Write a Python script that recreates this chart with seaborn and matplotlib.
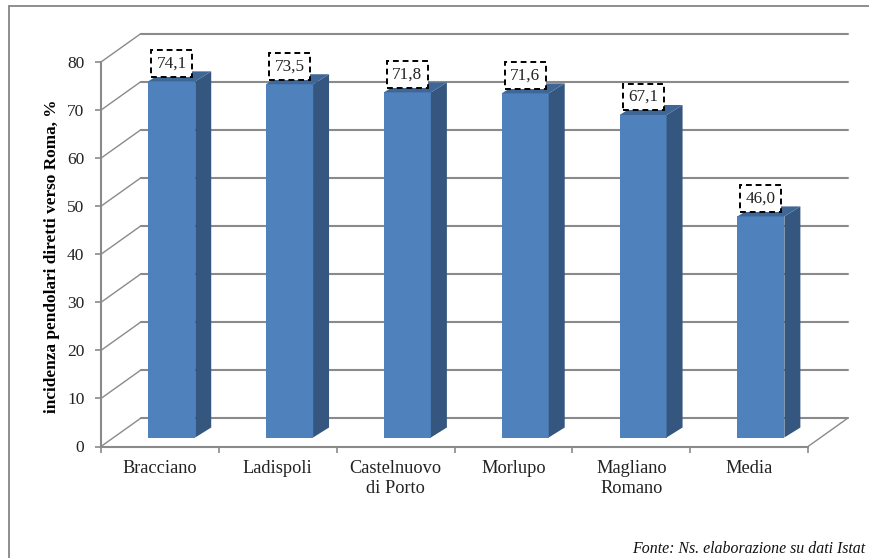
import matplotlib
matplotlib.use("Agg")
import matplotlib.pyplot as plt
import seaborn as sns
import pandas as pd
from matplotlib.patches import Polygon
from matplotlib.transforms import ScaledTranslation

categories = ["Bracciano", "Ladispoli", "Castelnuovo\ndi Porto", "Morlupo", "Magliano\nRomano", "Media"]
values = [74.1, 73.5, 71.8, 71.6, 67.1, 46.0]
labels = ["74,1", "73,5", "71,8", "71,6", "67,1", "46,0"]
y_ticks = list(range(0, 90, 10))
y_title = "incidenza pendolari diretti verso Roma, %"
source = "Fonte: Ns. elaborazione su dati Istat"

W, H = 869, 558
DPI = 100
sns.set_theme(style="white")
plt.rcParams["font.family"] = ["Liberation Serif", "DejaVu Serif"]
fig = plt.figure(figsize=(W / DPI, H / DPI), dpi=DPI, facecolor="white")

L, R, B, T = 101, 808, 446.5, 62
ax = fig.add_axes([L / W, 1 - B / H, (R - L) / W, (B - T) / H])
df = pd.DataFrame({"c": categories, "v": values})
ux = (R - L) / 6
uy = (B - T) / 80
sns.barplot(data=df, x="c", y="v", color="#4f81bd", saturation=1, width=47 / ux, ax=ax, zorder=4)
ax.set_xlim(-0.5, 5.5)
ax.set_ylim(0, 80)
ax.patch.set_visible(False)

GRID = "#8a8a8a"
wx, wy = 40 / ux, 28.5 / uy            # depth of the chart walls, in data units
bx, by = 11.8 / ux, 9 / uy             # front face of the bars relative to the front plane
dx, dy = 16 / ux, 10 / uy              # depth of each bar

for t in y_ticks:
    ax.plot([-0.5, -0.5 + wx], [t, t + wy], color=GRID, lw=1.0, clip_on=False, zorder=1)
    ax.plot([-0.5 + wx, 5.5 + wx], [t + wy, t + wy], color=GRID, lw=1.5, clip_on=False, zorder=1)
ax.plot([5.5, 5.5 + wx], [0, wy], color=GRID, lw=1.0, clip_on=False, zorder=1)

shift = ScaledTranslation(bx * ux / DPI, by * uy / DPI, fig.dpi_scale_trans)
for p, lab in zip(ax.patches, labels):
    x0, w, h = p.get_x(), p.get_width(), p.get_height()
    p.set_transform(ax.transData + shift)
    p.set_clip_on(False)
    p.set_edgecolor("none")
    x1 = x0 + w
    side = Polygon([(x1, 0), (x1 + dx, dy), (x1 + dx, h + dy), (x1, h)], closed=True,
                   facecolor="#34567f", edgecolor="none", clip_on=False, zorder=4,
                   transform=ax.transData + shift)
    top = Polygon([(x0, h), (x0 + dx, h + dy), (x1 + dx, h + dy), (x1, h)], closed=True,
                  facecolor="#3e6797", edgecolor="none", clip_on=False, zorder=4,
                  transform=ax.transData + shift)
    ax.add_patch(side)
    ax.add_patch(top)
    ax.text(x0 + w / 2, h + 10 / uy, lab, ha="center", va="bottom", fontsize=12.3,
            color="#222222", zorder=6, clip_on=False, transform=ax.transData + shift,
            bbox=dict(boxstyle="square,pad=0.32", facecolor="white", edgecolor="black",
                      linestyle=(0, (3, 2)), linewidth=1.4))

for s in ["top", "right"]:
    ax.spines[s].set_visible(False)
for s in ["left", "bottom"]:
    ax.spines[s].set_color(GRID)
    ax.spines[s].set_linewidth(1.5)
ax.set_yticks(y_ticks)
ax.set_xticks([i - 0.5 for i in range(7)], minor=True)
ax.set_xticks(range(6))
ax.set_xticklabels(categories, fontsize=13.2, color="#222222", linespacing=1.22)
ax.tick_params(axis="x", which="major", length=0, pad=10)
ax.tick_params(axis="x", which="minor", length=4, width=1.2, color=GRID, bottom=True)
ax.tick_params(axis="y", length=4, width=1.2, color=GRID, left=True, labelsize=12.5,
               labelcolor="#222222", pad=8)
ax.set_xlabel("")
ax.set_ylabel("")
fig.text(52 / W, 1 - 256.5 / H, y_title, rotation=90, ha="center", va="center",
         fontsize=12.4, fontweight="bold", color="black")

# outer frame of the chart area
fig.add_artist(plt.Line2D([9 / W, 9 / W], [0, 1 - 6 / H], color="#868686", lw=1.3))
fig.add_artist(plt.Line2D([9 / W, 1], [1 - 6 / H, 1 - 6 / H], color="#868686", lw=1.3))

fig.text(632 / W, 1 - 549 / H, source, ha="left", va="center", fontsize=11.4,
         style="italic", color="#111111")

fig.savefig("out.png", dpi=DPI)
